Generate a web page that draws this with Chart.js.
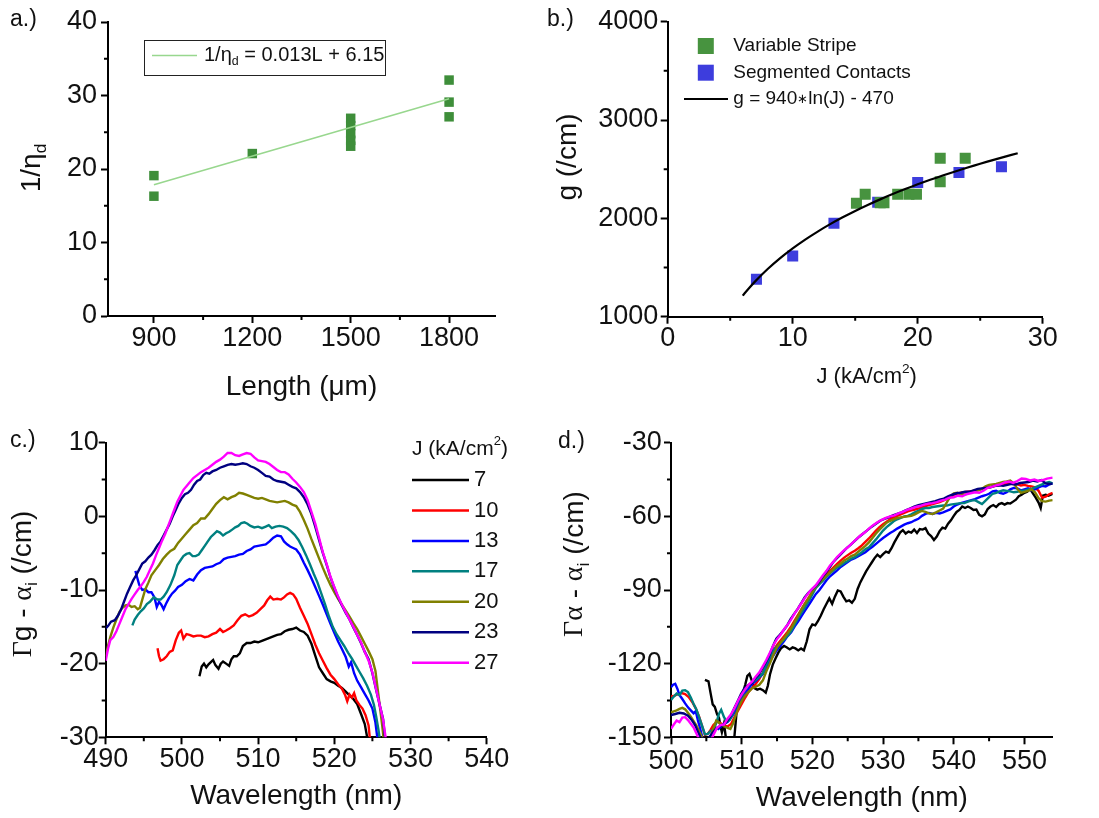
<!DOCTYPE html>
<html>
<head>
<meta charset="utf-8">
<script src="https://cdn.jsdelivr.net/npm/chart.js@4.4.0/dist/chart.umd.min.js"></script>
<style>
  body { margin:0; background:#fff; width:1099px; height:818px; position:relative; overflow:hidden; }
  canvas { position:absolute; }
</style>
</head>
<body>
<canvas id="panelA" width="540" height="410" style="left:0;top:0"></canvas>
<canvas id="panelB" width="559" height="410" style="left:540px;top:0"></canvas>
<canvas id="panelC" width="540" height="408" style="left:0;top:410px"></canvas>
<canvas id="panelD" width="549" height="408" style="left:550px;top:410px"></canvas>
<script>
// ── a.) inverse differential efficiency vs cavity length ─────
const lengths = [900, 900, 1200, 1500, 1500, 1500, 1500, 1500, 1800, 1800, 1800];
const invEff  = [19.1, 16.3, 22.1, 26.9, 25.9, 24.8, 23.9, 23.1, 32.1, 29.1, 27.1];
const effSlope = 0.013, effIntercept = 6.15;
const aXTicks = [900, 1200, 1500, 1800], aXMinor = [1050, 1350, 1650];
const aYTicks = [0, 10, 20, 30, 40],      aYMinor = [5, 15, 25, 35];

// ── b.) modal gain vs current density ────────────────────────
const stripeJ = [15.1, 15.8, 17.0, 17.3, 18.4, 19.3, 19.9, 21.8, 21.8, 23.8];
const stripeG = [2154, 2245, 2160, 2160, 2245, 2245, 2245, 2373, 2611, 2611];
const segJ = [7.1, 10.0, 13.3, 16.8, 20.0, 23.3, 26.7];
const segG = [1380, 1617, 1950, 2164, 2364, 2467, 2526];
const gainA = 940, gainB = -470;
const fitJ = [6, 6.5, 7, 8, 9, 10, 11, 12, 13, 14, 15, 16, 17, 18, 19, 20, 21, 22, 23, 24, 25, 26, 27, 28];
const bXTicks = [0, 10, 20, 30], bXMinor = [5, 15, 25];
const bYTicks = [1000, 2000, 3000, 4000], bYMinor = [1500, 2500, 3500];

// ── c.) / d.) spectra per current density ────────────────────
const jLevels = ['7', '10', '13', '17', '20', '23', '27'];
const jColors = ['#000000', '#ff0000', '#0000ff', '#008080', '#808000', '#000080', '#ff00ff'];
const cXTicks = [490, 500, 510, 520, 530, 540], cXMinor = [495, 505, 515, 525, 535];
const cYTicks = [-30, -20, -10, 0, 10],         cYMinor = [-25, -15, -5, 5];
const dXTicks = [500, 510, 520, 530, 540, 550], dXMinor = [505, 515, 525, 535, 545];
const dYTicks = [-150, -120, -90, -60, -30],    dYMinor = [-135, -105, -75, -45];

const gain7 = [[502.3,-21.7],[502.6,-20.4],[502.9,-20.0],[503.2,-20.5],[503.5,-20.1],[503.8,-19.8],[504.1,-19.5],[504.4,-20.2],[504.8,-20.7],[505.1,-20.0],[505.4,-19.7],[505.8,-20.0],[506.2,-20.3],[506.5,-19.4],[506.8,-19.0],[507.2,-19.0],[507.6,-18.6],[508.0,-17.6],[508.5,-17.2],[509.0,-17.2],[509.5,-17.0],[510.0,-17.1],[510.5,-16.9],[511.0,-16.7],[511.5,-16.5],[512.0,-16.3],[512.5,-16.1],[513.0,-16.0],[513.5,-15.6],[514.0,-15.4],[514.5,-15.3],[515.0,-15.1],[515.5,-15.5],[516.0,-15.7],[516.5,-16.2],[517.0,-17.3],[517.5,-18.9],[518.0,-20.5],[518.5,-21.3],[519.0,-22.1],[519.5,-22.4],[520.0,-22.6],[520.5,-23.0],[521.0,-23.3],[521.5,-23.8],[522.0,-24.3],[522.5,-24.8],[523.0,-25.5],[523.5,-26.8],[524.0,-28.2],[524.4,-30.5]];
const gain10 = [[496.8,-17.9],[497.0,-19.0],[497.2,-19.6],[497.6,-19.4],[498.0,-19.0],[498.4,-18.4],[498.8,-18.2],[499.2,-16.8],[499.6,-15.8],[499.9,-15.5],[500.2,-16.6],[500.6,-16.0],[501.0,-16.1],[501.5,-16.3],[502.0,-16.2],[502.5,-16.2],[503.0,-16.4],[503.5,-16.3],[504.0,-16.0],[504.5,-15.8],[505.0,-15.3],[505.4,-15.7],[505.8,-15.5],[506.3,-15.2],[506.8,-14.8],[507.3,-14.1],[507.8,-13.5],[508.3,-13.3],[508.8,-13.6],[509.3,-13.4],[509.8,-13.1],[510.3,-12.6],[510.8,-12.1],[511.2,-11.4],[511.6,-10.9],[512.0,-11.3],[512.5,-11.2],[513.0,-11.3],[513.4,-11.0],[513.8,-10.6],[514.2,-10.4],[514.6,-10.6],[515.0,-11.2],[515.5,-12.4],[516.0,-13.5],[516.5,-14.6],[517.0,-16.0],[517.5,-17.4],[518.0,-18.6],[518.5,-19.6],[519.0,-20.6],[519.5,-21.5],[520.0,-22.1],[520.5,-22.8],[521.0,-23.4],[521.4,-24.2],[521.7,-25.1],[522.0,-24.2],[522.3,-24.6],[522.6,-24.0],[522.9,-25.0],[523.3,-25.6],[523.7,-26.1],[524.1,-27.0],[524.5,-28.4],[524.7,-30.5]];
const gain13 = [[493.9,-7.4],[494.1,-8.2],[494.4,-9.3],[494.8,-10.0],[495.2,-9.9],[495.6,-10.3],[496.0,-10.3],[496.4,-11.0],[496.7,-12.3],[497.0,-11.6],[497.3,-12.0],[497.6,-12.6],[497.9,-11.9],[498.3,-11.1],[498.7,-10.5],[499.1,-10.1],[499.5,-9.6],[500.0,-9.3],[500.5,-8.8],[501.0,-8.5],[501.5,-8.7],[502.0,-7.9],[502.5,-7.3],[503.0,-7.0],[503.5,-6.9],[504.0,-6.8],[504.5,-6.5],[505.0,-6.3],[505.5,-5.8],[506.0,-5.6],[506.5,-5.5],[507.0,-5.4],[507.5,-5.2],[508.0,-5.1],[508.5,-4.7],[509.0,-4.5],[509.5,-4.1],[510.0,-4.0],[510.5,-3.9],[511.0,-3.8],[511.5,-3.4],[512.0,-2.9],[512.5,-2.6],[513.0,-2.7],[513.4,-3.4],[513.8,-3.8],[514.2,-4.1],[514.6,-4.3],[515.0,-4.5],[515.5,-5.2],[516.0,-6.3],[516.5,-7.3],[517.0,-8.4],[517.5,-9.6],[518.0,-10.8],[518.5,-12.0],[519.0,-13.3],[519.5,-14.6],[520.0,-15.8],[520.5,-17.0],[521.0,-18.0],[521.5,-19.1],[521.9,-20.4],[522.2,-19.8],[522.6,-21.3],[523.0,-22.3],[523.5,-23.2],[524.0,-24.1],[524.5,-25.0],[525.0,-26.1],[525.4,-28.0],[525.7,-30.5]];
const gain17 = [[493.5,-14.8],[493.8,-14.0],[494.2,-13.4],[494.6,-12.9],[495.0,-12.5],[495.4,-11.9],[495.8,-11.6],[496.3,-11.0],[496.8,-11.3],[497.2,-11.3],[497.6,-10.9],[498.0,-10.3],[498.5,-9.3],[499.0,-8.0],[499.4,-6.6],[499.8,-6.0],[500.2,-5.4],[500.6,-5.1],[501.0,-5.0],[501.4,-5.4],[501.8,-5.4],[502.2,-5.2],[502.6,-4.6],[503.0,-4.0],[503.4,-3.4],[503.8,-2.8],[504.2,-2.4],[504.6,-2.0],[505.0,-2.2],[505.4,-2.6],[505.8,-2.3],[506.2,-2.1],[506.6,-1.8],[507.0,-1.5],[507.4,-1.3],[507.8,-0.9],[508.2,-0.8],[508.6,-1.0],[509.0,-1.3],[509.5,-1.5],[510.0,-1.4],[510.5,-1.6],[511.0,-1.4],[511.4,-1.2],[511.8,-1.6],[512.3,-1.4],[512.8,-1.3],[513.3,-1.4],[513.8,-1.6],[514.3,-2.0],[514.8,-2.5],[515.3,-3.2],[515.8,-4.2],[516.3,-5.3],[516.8,-6.5],[517.3,-7.8],[517.8,-9.0],[518.3,-10.5],[518.8,-12.0],[519.3,-13.6],[519.8,-15.0],[520.3,-16.0],[520.8,-16.8],[521.3,-17.6],[521.8,-18.5],[522.3,-19.3],[522.8,-20.2],[523.3,-21.1],[523.8,-22.0],[524.3,-23.0],[524.8,-24.2],[525.2,-25.6],[525.5,-27.2],[525.8,-29.0],[526.0,-30.5]];
const gain20 = [[490.0,-19.0],[490.3,-17.6],[490.6,-16.4],[491.0,-15.1],[491.4,-14.0],[491.8,-13.0],[492.2,-12.4],[492.6,-12.1],[493.0,-12.0],[493.4,-12.3],[493.8,-12.2],[494.2,-12.6],[494.5,-12.4],[494.8,-11.3],[495.2,-9.9],[495.6,-9.0],[496.0,-8.0],[496.5,-7.3],[497.0,-6.6],[497.5,-5.8],[498.0,-5.2],[498.5,-4.7],[499.0,-4.4],[499.5,-3.6],[500.0,-3.0],[500.5,-2.4],[501.0,-1.8],[501.5,-1.2],[502.0,-0.9],[502.5,-0.3],[503.0,-0.3],[503.5,0.3],[504.0,1.0],[504.5,1.7],[505.0,2.2],[505.5,2.6],[506.0,2.3],[506.5,2.6],[507.0,2.8],[507.5,3.2],[508.0,3.1],[508.5,2.9],[509.0,2.7],[509.5,2.5],[510.0,2.4],[510.5,2.5],[511.0,2.3],[511.5,2.1],[512.0,2.0],[512.5,1.9],[513.0,2.0],[513.5,2.1],[514.0,1.9],[514.5,1.6],[515.0,1.4],[515.5,0.6],[516.0,-0.5],[516.5,-1.7],[517.0,-3.1],[517.5,-4.4],[518.0,-5.7],[518.5,-7.0],[519.0,-8.2],[519.5,-9.3],[520.0,-10.3],[520.5,-11.2],[521.0,-12.0],[521.5,-12.8],[522.0,-13.6],[522.5,-14.5],[523.0,-15.3],[523.5,-16.3],[524.0,-17.3],[524.5,-18.3],[525.0,-19.4],[525.4,-21.0],[525.7,-23.5],[526.0,-26.0],[526.3,-28.5],[526.5,-30.5]];
const gain23 = [[490.0,-15.2],[490.3,-14.9],[490.7,-14.3],[491.2,-14.1],[491.6,-13.5],[492.0,-12.7],[492.4,-11.6],[492.8,-10.5],[493.2,-9.6],[493.6,-8.7],[494.0,-8.0],[494.4,-7.2],[494.8,-6.4],[495.2,-6.1],[495.6,-5.6],[496.0,-5.2],[496.4,-4.6],[496.8,-3.9],[497.2,-3.4],[497.6,-2.6],[498.0,-1.8],[498.4,-1.0],[498.8,0.0],[499.2,0.9],[499.6,1.8],[500.0,2.5],[500.4,3.0],[500.8,3.2],[501.2,3.6],[501.6,4.3],[502.0,4.8],[502.4,5.0],[502.8,5.6],[503.2,5.9],[503.6,5.8],[504.0,6.1],[504.5,6.3],[505.0,6.6],[505.5,6.8],[506.0,7.0],[506.5,7.1],[507.0,7.0],[507.5,7.1],[508.0,7.2],[508.5,7.1],[509.0,6.8],[509.5,6.6],[510.0,6.3],[510.5,5.9],[511.0,5.5],[511.5,5.4],[512.0,5.0],[512.5,4.8],[513.0,4.7],[513.5,4.6],[514.0,4.3],[514.5,4.0],[515.0,3.8],[515.5,3.3],[516.0,2.6],[516.5,1.6],[517.0,0.3],[517.5,-1.4],[518.0,-3.2],[518.5,-5.0],[519.0,-6.6],[519.5,-8.3],[520.0,-9.7],[520.5,-11.0],[521.0,-12.1],[521.5,-13.1],[522.0,-14.0],[522.5,-15.1],[523.0,-16.1],[523.5,-17.2],[524.0,-18.4],[524.5,-19.4],[525.0,-21.3],[525.5,-23.6],[526.0,-25.8],[526.4,-27.5],[526.7,-30.5]];
const gain27 = [[490.0,-19.6],[490.3,-18.0],[490.6,-16.8],[491.0,-16.4],[491.4,-15.6],[491.8,-14.6],[492.2,-13.6],[492.6,-12.6],[493.0,-11.9],[493.4,-11.2],[493.8,-10.6],[494.2,-10.0],[494.6,-9.5],[495.0,-8.9],[495.4,-8.2],[495.8,-7.3],[496.2,-6.4],[496.6,-5.3],[497.0,-4.3],[497.4,-3.3],[497.8,-2.4],[498.2,-1.3],[498.6,-0.2],[499.0,0.9],[499.4,2.0],[499.8,2.8],[500.2,3.6],[500.6,4.1],[501.0,4.6],[501.5,5.2],[502.0,5.6],[502.5,6.0],[503.0,6.3],[503.5,6.6],[504.0,7.0],[504.5,7.4],[505.0,7.7],[505.5,8.1],[506.0,8.6],[506.5,8.6],[507.0,8.3],[507.5,8.2],[508.0,8.4],[508.5,8.6],[509.0,8.5],[509.5,8.0],[510.0,7.6],[510.5,7.5],[511.0,7.4],[511.5,7.1],[512.0,6.7],[512.5,6.3],[513.0,6.0],[513.5,6.0],[514.0,5.7],[514.5,5.1],[515.0,4.6],[515.5,4.0],[516.0,3.3],[516.5,2.2],[517.0,0.6],[517.5,-1.0],[518.0,-2.9],[518.5,-4.9],[519.0,-6.5],[519.5,-8.2],[520.0,-9.6],[520.5,-10.9],[521.0,-12.0],[521.5,-13.0],[522.0,-14.0],[522.5,-15.0],[523.0,-16.1],[523.5,-17.1],[524.0,-18.4],[524.5,-19.6],[525.0,-21.2],[525.5,-23.5],[526.0,-25.8],[526.4,-27.6],[526.8,-30.5]];

const abs7 = [[504.8,-126.6],[505.3,-127.2],[505.6,-132.0],[505.9,-136.6],[506.2,-137.6],[506.5,-140.4],[506.8,-142.2],[507.0,-145.6],[507.2,-148.0],[507.5,-144.4],[507.8,-151.0],[508.0,-156.0],[508.5,-160.0],[508.9,-152.0],[509.3,-139.0],[509.7,-136.0],[510.1,-132.6],[510.5,-128.6],[510.8,-125.0],[511.1,-124.2],[511.4,-126.6],[511.8,-130.0],[512.2,-130.6],[512.6,-130.2],[513.0,-130.8],[513.4,-131.8],[513.7,-129.0],[514.0,-124.4],[514.4,-120.4],[514.8,-117.8],[515.2,-115.4],[515.6,-113.6],[516.0,-112.8],[516.4,-113.4],[516.8,-114.2],[517.2,-113.4],[517.6,-113.8],[518.0,-114.6],[518.4,-113.8],[518.8,-114.6],[519.2,-111.0],[519.6,-106.0],[520.0,-104.0],[520.4,-104.4],[520.8,-102.6],[521.2,-100.4],[521.6,-97.8],[522.0,-95.6],[522.4,-93.4],[522.8,-95.6],[523.2,-92.6],[523.6,-90.2],[524.0,-90.6],[524.4,-92.8],[524.8,-94.6],[525.2,-94.2],[525.6,-95.2],[526.0,-93.6],[526.4,-89.6],[526.8,-86.8],[527.2,-84.6],[527.6,-82.4],[528.0,-80.6],[528.4,-78.8],[528.8,-77.0],[529.2,-75.6],[529.6,-76.6],[530.0,-75.4],[530.4,-74.4],[530.8,-74.8],[531.2,-73.0],[531.6,-70.6],[532.0,-68.6],[532.4,-66.6],[532.8,-65.6],[533.2,-67.0],[533.6,-66.2],[534.0,-66.6],[534.4,-65.4],[534.8,-66.8],[535.2,-65.2],[535.6,-65.4],[536.0,-64.8],[536.4,-67.0],[536.8,-68.0],[537.2,-69.6],[537.6,-68.2],[538.0,-66.0],[538.4,-64.6],[538.8,-65.0],[539.2,-63.0],[539.6,-61.6],[540.0,-59.8],[540.4,-58.2],[540.8,-57.4],[541.2,-56.0],[541.6,-56.6],[542.0,-56.0],[542.4,-56.6],[542.8,-57.4],[543.2,-57.2],[543.6,-59.4],[544.0,-60.0],[544.4,-59.2],[544.8,-57.0],[545.2,-56.0],[545.6,-55.4],[546.0,-56.2],[546.4,-55.0],[546.8,-54.6],[547.2,-55.2],[547.6,-54.6],[548.0,-54.8],[548.4,-54.0],[548.8,-53.2],[549.2,-51.8],[549.6,-51.2],[550.0,-50.4],[550.4,-50.0],[550.8,-48.8],[551.2,-50.6],[551.6,-52.4],[552.0,-54.4],[552.3,-56.6],[552.6,-51.6],[553.0,-51.2],[553.4,-51.6],[554.0,-50.8]];
const abs10 = [[500.0,-133.4],[500.5,-133.0],[501.0,-132.4],[501.5,-132.0],[502.0,-132.4],[502.5,-133.6],[503.0,-135.6],[503.5,-138.2],[504.0,-141.8],[504.4,-145.4],[504.8,-149.0],[505.2,-148.6],[505.6,-147.0],[506.0,-145.0],[506.5,-143.6],[507.0,-144.2],[507.5,-145.0],[508.0,-145.6],[508.5,-144.6],[509.0,-141.6],[509.5,-139.0],[510.0,-136.4],[510.5,-133.8],[511.0,-131.4],[511.5,-129.8],[512.0,-128.2],[512.5,-126.2],[513.0,-123.6],[513.5,-120.6],[514.0,-117.4],[514.5,-114.6],[515.0,-112.4],[515.5,-110.6],[516.0,-108.8],[516.5,-107.0],[517.0,-104.8],[517.5,-102.4],[518.0,-100.0],[518.5,-97.6],[519.0,-95.2],[519.5,-93.0],[520.0,-90.8],[520.5,-88.6],[521.0,-86.8],[521.5,-85.2],[522.0,-83.6],[522.5,-82.2],[523.0,-80.8],[523.5,-79.4],[524.0,-78.0],[524.5,-76.8],[525.0,-75.8],[525.5,-74.8],[526.0,-74.0],[526.5,-73.0],[527.0,-71.8],[527.5,-70.4],[528.0,-69.0],[528.5,-67.4],[529.0,-65.8],[529.5,-64.4],[530.0,-63.2],[530.5,-62.2],[531.0,-61.2],[531.5,-60.4],[532.0,-59.8],[532.5,-59.2],[533.0,-58.6],[533.5,-58.0],[534.0,-57.6],[534.5,-57.2],[535.0,-56.8],[535.5,-56.2],[536.0,-55.8],[536.5,-55.4],[537.0,-55.0],[537.5,-54.6],[538.0,-54.2],[538.5,-53.6],[539.0,-53.0],[539.5,-52.2],[540.0,-51.2],[540.5,-50.8],[541.0,-50.4],[541.5,-50.2],[542.0,-50.0],[542.5,-49.8],[543.0,-49.4],[543.5,-49.0],[544.0,-48.8],[544.5,-48.4],[545.0,-48.2],[545.5,-47.8],[546.0,-47.6],[546.5,-47.2],[547.0,-47.0],[547.5,-46.8],[548.0,-46.6],[548.5,-46.8],[549.0,-47.0],[549.5,-47.4],[550.0,-47.2],[550.5,-47.6],[551.0,-47.8],[551.5,-48.2],[552.0,-49.6],[552.5,-52.4],[553.0,-52.0],[553.5,-51.0],[554.0,-50.4]];
const abs13 = [[500.0,-129.6],[500.3,-128.6],[500.6,-128.2],[500.9,-130.2],[501.2,-132.8],[501.6,-134.4],[502.0,-136.2],[502.4,-137.8],[502.8,-139.0],[503.2,-140.2],[503.5,-139.4],[503.8,-143.0],[504.1,-146.2],[504.4,-149.6],[504.7,-152.0],[505.2,-151.8],[505.6,-150.6],[506.0,-148.2],[506.3,-146.0],[506.7,-146.6],[507.1,-145.6],[507.5,-144.4],[508.0,-143.8],[508.5,-142.0],[509.0,-139.8],[509.5,-137.2],[510.0,-134.6],[510.5,-132.0],[511.0,-130.0],[511.5,-128.2],[512.0,-127.0],[512.5,-125.6],[513.0,-124.2],[513.5,-121.4],[514.0,-118.6],[514.5,-116.6],[515.0,-114.4],[515.5,-112.6],[516.0,-110.8],[516.5,-108.8],[517.0,-107.2],[517.5,-104.8],[518.0,-102.8],[518.5,-100.4],[519.0,-98.2],[519.5,-96.0],[520.0,-93.8],[520.5,-91.6],[521.0,-90.0],[521.5,-88.0],[522.0,-86.0],[522.5,-84.4],[523.0,-83.2],[523.5,-82.0],[524.0,-80.6],[524.5,-79.6],[525.0,-78.6],[525.5,-77.6],[526.0,-77.0],[526.5,-76.2],[527.0,-75.4],[527.5,-74.6],[528.0,-73.4],[528.5,-72.4],[529.0,-71.2],[529.5,-70.0],[530.0,-68.8],[530.5,-67.8],[531.0,-66.8],[531.5,-66.0],[532.0,-65.0],[532.5,-64.2],[533.0,-63.4],[533.5,-62.8],[534.0,-62.4],[534.5,-61.6],[535.0,-61.0],[535.5,-59.8],[536.0,-59.0],[536.5,-58.6],[537.0,-59.0],[537.5,-58.6],[538.0,-58.8],[538.5,-58.4],[539.0,-57.8],[539.5,-57.2],[540.0,-56.0],[540.5,-55.2],[541.0,-54.6],[541.5,-54.2],[542.0,-53.8],[542.5,-53.4],[543.0,-53.0],[543.5,-52.4],[544.0,-51.8],[544.5,-51.4],[545.0,-50.8],[545.5,-49.8],[546.0,-49.6],[546.5,-50.4],[547.0,-50.8],[547.5,-50.2],[548.0,-49.0],[548.5,-48.4],[549.0,-48.6],[549.5,-49.4],[550.0,-49.0],[550.5,-48.6],[551.0,-49.4],[551.5,-49.0],[552.0,-48.2],[552.5,-47.6],[553.0,-47.8],[553.5,-47.0],[554.0,-46.6]];
const abs17 = [[500.0,-134.8],[500.4,-133.4],[500.8,-132.2],[501.2,-132.8],[501.6,-131.0],[502.0,-130.8],[502.4,-131.6],[502.8,-133.8],[503.2,-136.4],[503.6,-138.8],[504.0,-142.0],[504.4,-145.4],[504.8,-148.8],[505.2,-148.6],[505.6,-147.4],[506.0,-147.0],[506.4,-144.2],[506.8,-140.4],[507.1,-138.8],[507.5,-141.8],[507.9,-143.6],[508.3,-143.0],[508.7,-140.6],[509.1,-137.6],[509.5,-135.4],[510.0,-133.0],[510.5,-130.6],[511.0,-128.8],[511.5,-127.6],[512.0,-126.6],[512.5,-125.4],[513.0,-124.0],[513.5,-120.2],[514.0,-117.0],[514.5,-114.6],[515.0,-113.0],[515.5,-111.6],[516.0,-110.2],[516.5,-108.6],[517.0,-106.8],[517.5,-104.0],[518.0,-101.4],[518.5,-99.0],[519.0,-96.8],[519.5,-94.4],[520.0,-91.8],[520.5,-89.2],[521.0,-87.6],[521.5,-86.2],[522.0,-84.6],[522.5,-83.2],[523.0,-82.0],[523.5,-80.8],[524.0,-80.0],[524.5,-79.0],[525.0,-78.2],[525.5,-77.2],[526.0,-76.6],[526.5,-75.6],[527.0,-74.6],[527.5,-73.4],[528.0,-72.6],[528.5,-71.0],[529.0,-69.4],[529.5,-67.6],[530.0,-65.8],[530.5,-64.4],[531.0,-63.2],[531.5,-62.0],[532.0,-61.2],[532.5,-60.6],[533.0,-60.0],[533.5,-59.8],[534.0,-59.2],[534.5,-58.4],[535.0,-57.8],[535.5,-57.0],[536.0,-56.6],[536.5,-56.6],[537.0,-56.2],[537.5,-56.0],[538.0,-55.8],[538.5,-55.6],[539.0,-55.6],[539.5,-55.2],[540.0,-55.0],[540.5,-54.8],[541.0,-54.6],[541.5,-54.6],[542.0,-54.0],[542.5,-53.6],[543.0,-53.4],[543.5,-54.2],[544.0,-55.0],[544.5,-53.6],[545.0,-52.2],[545.5,-50.8],[546.0,-50.4],[546.5,-49.8],[547.0,-49.4],[547.5,-49.6],[548.0,-49.8],[548.5,-50.2],[549.0,-50.0],[549.5,-49.6],[550.0,-49.6],[550.5,-49.0],[551.0,-48.8],[551.5,-48.2],[552.0,-47.6],[552.5,-47.0],[553.0,-46.4],[553.5,-46.0],[554.0,-46.6]];
const abs20 = [[500.0,-139.8],[500.4,-139.4],[500.8,-139.0],[501.2,-138.4],[501.6,-138.0],[502.0,-138.6],[502.4,-140.0],[502.8,-141.6],[503.2,-143.4],[503.6,-145.2],[504.0,-147.6],[504.4,-150.0],[504.8,-152.4],[505.2,-151.6],[505.6,-149.8],[506.0,-146.4],[506.4,-143.2],[506.8,-144.0],[507.2,-145.2],[507.6,-145.6],[508.0,-146.2],[508.4,-146.6],[508.8,-144.2],[509.2,-140.6],[509.6,-137.6],[510.0,-135.2],[510.5,-133.0],[511.0,-131.4],[511.5,-130.0],[512.0,-129.4],[512.5,-128.6],[513.0,-126.8],[513.5,-123.0],[514.0,-119.8],[514.5,-116.4],[515.0,-113.4],[515.5,-111.4],[516.0,-109.6],[516.5,-107.6],[517.0,-105.6],[517.5,-103.0],[518.0,-100.4],[518.5,-97.8],[519.0,-95.4],[519.5,-93.2],[520.0,-90.8],[520.5,-88.6],[521.0,-87.0],[521.5,-85.6],[522.0,-84.2],[522.5,-82.8],[523.0,-81.4],[523.5,-80.2],[524.0,-79.2],[524.5,-78.0],[525.0,-77.2],[525.5,-76.2],[526.0,-75.6],[526.5,-74.4],[527.0,-73.2],[527.5,-72.0],[528.0,-70.6],[528.5,-68.8],[529.0,-67.0],[529.5,-65.4],[530.0,-64.0],[530.5,-62.6],[531.0,-61.8],[531.5,-61.2],[532.0,-60.6],[532.5,-60.4],[533.0,-60.2],[533.5,-60.0],[534.0,-59.8],[534.5,-59.2],[535.0,-58.4],[535.5,-57.8],[536.0,-58.2],[536.5,-58.8],[537.0,-59.0],[537.5,-58.4],[538.0,-57.6],[538.5,-56.8],[539.0,-54.4],[539.5,-52.0],[540.0,-50.6],[540.5,-50.4],[541.0,-51.0],[541.5,-51.2],[542.0,-50.6],[542.5,-50.0],[543.0,-49.8],[543.5,-49.4],[544.0,-48.8],[544.5,-47.8],[545.0,-47.2],[545.5,-47.0],[546.0,-46.8],[546.5,-46.4],[547.0,-46.0],[547.5,-45.8],[548.0,-45.4],[548.5,-46.6],[549.0,-48.8],[549.5,-50.4],[550.0,-50.0],[550.5,-49.6],[551.0,-49.0],[551.5,-50.2],[552.0,-52.6],[552.5,-53.8],[553.0,-54.0],[553.5,-53.6],[554.0,-53.4]];
const abs23 = [[500.0,-140.9],[500.6,-140.5],[501.2,-140.0],[501.8,-140.3],[502.4,-141.2],[502.9,-142.8],[503.4,-145.0],[503.9,-148.3],[504.4,-151.5],[504.9,-151.0],[505.4,-150.0],[505.9,-148.0],[506.4,-146.4],[506.9,-145.5],[507.4,-145.0],[507.9,-143.6],[508.4,-141.5],[508.9,-138.5],[509.4,-135.5],[509.9,-132.4],[510.4,-130.0],[510.9,-128.8],[511.4,-128.0],[511.9,-126.0],[512.4,-124.5],[512.9,-122.0],[513.4,-119.5],[513.9,-116.8],[514.4,-113.0],[514.9,-109.8],[515.4,-108.2],[515.9,-106.5],[516.4,-104.6],[516.9,-102.0],[517.4,-99.8],[517.9,-97.8],[518.4,-95.5],[518.9,-93.0],[519.4,-91.2],[519.9,-89.8],[520.4,-88.5],[520.9,-87.0],[521.4,-84.8],[521.9,-83.0],[522.4,-81.0],[522.9,-78.8],[523.4,-77.2],[523.9,-75.8],[524.4,-74.3],[524.9,-72.8],[525.4,-71.6],[526.0,-70.0],[526.6,-68.4],[527.2,-67.0],[527.8,-65.6],[528.4,-64.2],[529.0,-63.0],[529.6,-61.8],[530.2,-61.0],[530.8,-60.4],[531.4,-59.6],[532.0,-59.0],[532.6,-58.4],[533.2,-57.6],[533.8,-56.8],[534.4,-56.0],[535.0,-55.4],[535.6,-55.0],[536.2,-54.6],[536.8,-54.2],[537.4,-53.8],[538.0,-53.2],[538.6,-52.8],[539.2,-51.9],[539.8,-51.2],[540.4,-50.6],[541.0,-50.4],[541.6,-50.0],[542.2,-50.0],[542.8,-49.4],[543.4,-48.8],[544.0,-48.6],[544.6,-48.4],[545.2,-48.2],[545.8,-47.6],[546.4,-47.4],[547.0,-47.6],[547.6,-47.2],[548.2,-46.8],[548.8,-47.0],[549.4,-46.4],[550.0,-46.2],[550.6,-46.0],[551.2,-45.4],[551.8,-45.8],[552.4,-45.2],[553.0,-46.6],[553.6,-46.8],[554.0,-46.6]];
const abs27 = [[500.0,-146.5],[500.4,-144.8],[500.8,-143.2],[501.2,-143.8],[501.6,-142.0],[502.0,-141.8],[502.4,-143.0],[502.8,-144.5],[503.2,-146.0],[503.6,-148.5],[504.0,-151.0],[504.4,-153.5],[504.8,-156.0],[505.6,-152.0],[506.0,-149.0],[506.5,-146.2],[507.0,-145.0],[507.5,-144.8],[508.0,-142.4],[508.5,-140.6],[509.0,-138.0],[509.5,-135.0],[510.0,-132.5],[510.5,-130.4],[511.0,-128.5],[511.5,-127.2],[512.0,-125.2],[512.5,-123.5],[513.0,-121.0],[513.5,-118.4],[514.0,-115.5],[514.5,-112.4],[515.0,-110.0],[515.5,-108.2],[516.0,-106.0],[516.5,-104.2],[517.0,-102.0],[517.5,-99.5],[518.0,-97.4],[518.5,-95.2],[519.0,-93.0],[519.5,-91.0],[520.0,-89.4],[520.5,-88.0],[521.0,-86.0],[521.5,-84.0],[522.0,-82.2],[522.5,-80.0],[523.0,-78.4],[523.5,-76.6],[524.0,-75.2],[524.5,-73.8],[525.0,-72.6],[525.6,-71.0],[526.2,-69.4],[526.8,-67.8],[527.4,-66.6],[528.0,-65.0],[528.6,-63.6],[529.2,-62.4],[529.8,-61.4],[530.4,-60.6],[531.0,-60.0],[531.6,-59.6],[532.2,-58.8],[532.8,-58.2],[533.4,-57.4],[534.0,-56.8],[534.6,-56.2],[535.2,-55.8],[535.8,-55.2],[536.4,-54.8],[537.0,-54.6],[537.6,-54.2],[538.2,-53.6],[538.8,-53.2],[539.4,-52.4],[540.0,-52.2],[540.6,-51.6],[541.2,-51.8],[541.8,-51.0],[542.4,-50.6],[543.0,-50.2],[543.6,-50.4],[544.2,-49.6],[544.8,-48.4],[545.4,-48.0],[546.0,-47.4],[546.6,-47.0],[547.2,-46.2],[547.8,-45.8],[548.4,-46.4],[549.0,-45.6],[549.6,-44.6],[550.2,-44.8],[550.8,-45.4],[551.4,-45.0],[552.0,-45.6],[552.6,-45.2],[553.2,-44.6],[554.0,-44.2]];

const gainSeries = [gain7, gain10, gain13, gain17, gain20, gain23, gain27];
const absSeries  = [abs7, abs10, abs13, abs17, abs20, abs23, abs27];

// ── shared helpers ───────────────────────────────────────────
const SANS  = "'Liberation Sans', Arial, Helvetica, sans-serif";
const SERIF = "'Liberation Serif', 'Times New Roman', serif";

const pts = arr => arr.map(([x, y]) => ({ x, y }));
const zipXY = (xs, ys) => xs.map((x, i) => ({ x, y: ys[i] }));

function linAxis(min, max, ticks, pad, size) {
  return {
    type: 'linear', min, max,
    afterBuildTicks: s => { s.ticks = ticks.map(v => ({ value: v })); },
    ticks: { color: '#111', padding: pad, autoSkip: false, maxRotation: 0,
             font: { family: SANS, size: 27, lineHeight: 1 }, callback: v => String(v) },
    grid: { drawOnChartArea: false, tickLength: 7, tickWidth: 2, tickColor: '#000' },
    border: { color: '#000', width: 2 },
    afterFit: s => { if (s.isHorizontal()) s.height = size; else s.width = size; }
  };
}

function axisTitle(text, size, padBottom) {
  return { display: true, text, color: '#111', padding: { top: 0, bottom: padBottom },
           font: { family: SANS, size, lineHeight: 1 } };
}

// text with sub/superscripts: parts = [{t, sub, sup, serif, scale}]
function rich(ctx, parts, x, y, size, opt = {}) {
  ctx.save();
  ctx.translate(x, y);
  if (opt.rotate) ctx.rotate(-Math.PI / 2);
  ctx.textBaseline = 'middle';
  ctx.textAlign = 'left';
  ctx.fillStyle = '#111';
  const sizeOf = p => size * (p.scale || ((p.sub || p.sup) ? 0.62 : 1));
  const fontOf = p => `${sizeOf(p)}px ${p.serif ? SERIF : SANS}`;
  const widths = parts.map(p => { ctx.font = fontOf(p); return ctx.measureText(p.t).width; });
  const total = widths.reduce((a, b) => a + b, 0);
  let cx = opt.center ? -total / 2 : 0;
  parts.forEach((p, i) => {
    ctx.font = fontOf(p);
    const dy = p.sub ? size * 0.32 : p.sup ? -size * 0.34 : 0;
    ctx.fillText(p.t, cx, dy);
    cx += widths[i];
  });
  ctx.restore();
}

function minorTicks(xs, ys) {
  return {
    id: 'minorTicks',
    afterDraw(chart) {
      const { ctx, scales: { x, y } } = chart;
      ctx.save();
      ctx.strokeStyle = '#000';
      ctx.lineWidth = 2;
      ctx.beginPath();
      xs.forEach(v => { const px = x.getPixelForValue(v); ctx.moveTo(px, x.top); ctx.lineTo(px, x.top + 4); });
      ys.forEach(v => { const py = y.getPixelForValue(v); ctx.moveTo(y.right - 4, py); ctx.lineTo(y.right, py); });
      ctx.stroke();
      ctx.restore();
    }
  };
}

const decor = draw => ({ id: 'decor', afterDraw: chart => draw(chart.ctx, chart) });

const base = (padding) => ({
  responsive: false, animation: false, events: [],
  layout: { padding },
  plugins: { legend: { display: false }, tooltip: { enabled: false } }
});

// ── PANEL A ──────────────────────────────────────────────────
new Chart(document.getElementById('panelA'), {
  type: 'scatter',
  data: {
    datasets: [
      { data: [900, 1800].map(L => ({ x: L, y: effSlope * L + effIntercept })),
        showLine: true, borderColor: '#98d78e', borderWidth: 1.6, pointRadius: 0 },
      { data: zipXY(lengths, invEff), pointStyle: 'rect', pointRadius: 6.7,
        backgroundColor: '#3e8e3a', borderWidth: 0 }
    ]
  },
  options: {
    ...base({ top: 22, right: 45, left: 0, bottom: 0 }),
    scales: {
      x: { ...linAxis(760, 1940, aXTicks, 2, 94), title: axisTitle('Length (μm)', 28, 9) },
      y: linAxis(0, 40, aYTicks, 4, 108)
    }
  },
  plugins: [minorTicks(aXMinor, aYMinor), decor(ctx => {
    rich(ctx, [{ t: 'a.)' }], 10, 20, 23);
    rich(ctx, [{ t: '1/η' }, { t: 'd', sub: 1 }], 32, 168, 28, { rotate: 1, center: 1 });
    // fit legend box
    ctx.save();
    ctx.fillStyle = '#fff';
    ctx.fillRect(144.5, 40.5, 241, 35);
    ctx.strokeStyle = '#222';
    ctx.lineWidth = 1;
    ctx.strokeRect(144.5, 40.5, 241, 35);
    ctx.strokeStyle = '#98d78e';
    ctx.lineWidth = 1.6;
    ctx.beginPath(); ctx.moveTo(152, 55.5); ctx.lineTo(197, 55.5); ctx.stroke();
    ctx.restore();
    rich(ctx, [{ t: '1/η' }, { t: 'd', sub: 1 }, { t: ` = ${effSlope}L + ${effIntercept}` }], 204, 55, 20);
  })]
});

// ── PANEL B ──────────────────────────────────────────────────
new Chart(document.getElementById('panelB'), {
  type: 'scatter',
  data: {
    datasets: [
      { label: `g = ${gainA}∗ln(J) - ${-gainB}`,
        data: fitJ.map(j => ({ x: j, y: gainA * Math.log(j) + gainB })),
        showLine: true, borderColor: '#000', borderWidth: 2.2, pointRadius: 0, tension: 0.3 },
      { label: 'Variable Stripe', data: zipXY(stripeJ, stripeG), pointStyle: 'rect',
        pointRadius: 7.8, backgroundColor: '#47933f', borderWidth: 0 },
      { label: 'Segmented Contacts', data: zipXY(segJ, segG), pointStyle: 'rect',
        pointRadius: 7.8, backgroundColor: '#3d3ddd', borderWidth: 0 }
    ]
  },
  options: {
    ...base({ top: 21.7, right: 56.3, left: 0, bottom: 0 }),
    scales: {
      x: linAxis(0, 30, bXTicks, 1, 93.3),
      y: linAxis(1000, 4000, bYTicks, 2.4, 127.7)
    }
  },
  plugins: [minorTicks(bXMinor, bYMinor), decor((ctx, chart) => {
    const ds = chart.data.datasets;
    rich(ctx, [{ t: 'b.)' }], 7, 20, 23);
    rich(ctx, [{ t: 'g (/cm)' }], 28, 157, 28, { rotate: 1, center: 1 });
    rich(ctx, [{ t: 'J (kA/cm' }, { t: '2', sup: 1 }, { t: ')' }], 326.7, 377, 22, { center: 1 });
    // legend
    ctx.save();
    ctx.fillStyle = ds[1].backgroundColor;
    ctx.fillRect(157.8, 38, 16, 16);
    ctx.fillStyle = ds[2].backgroundColor;
    ctx.fillRect(157.8, 64.7, 16, 16);
    ctx.strokeStyle = '#000';
    ctx.lineWidth = 2.2;
    ctx.beginPath(); ctx.moveTo(144, 99); ctx.lineTo(188, 99); ctx.stroke();
    ctx.restore();
    rich(ctx, [{ t: ds[1].label }], 193.3, 46, 19);
    rich(ctx, [{ t: ds[2].label }], 193.3, 72.7, 19);
    const [pre, post] = ds[0].label.split('∗');
    rich(ctx, [{ t: pre }, { t: '∗', scale: 0.7 }, { t: post }], 193.3, 99, 19);
  })]
});

// ── PANELS C & D: one line per current density ───────────────
function spectraSets(series) {
  return series.map((s, i) => ({
    label: jLevels[i], data: pts(s), showLine: true, borderColor: jColors[i],
    borderWidth: 2.4, pointRadius: 0, order: series.length - i
  }));
}

new Chart(document.getElementById('panelC'), {
  type: 'scatter',
  data: { datasets: spectraSets(gainSeries) },
  options: {
    ...base({ top: 32.7, right: 53.3, left: 0, bottom: 0 }),
    scales: {
      x: { ...linAxis(490, 540, cXTicks, 2.2, 80.7), title: axisTitle('Wavelength (nm)', 28, 7.3) },
      y: linAxis(-30, 10, cYTicks, 0, 105.7)
    }
  },
  plugins: [minorTicks(cXMinor, cYMinor), decor((ctx, chart) => {
    rich(ctx, [{ t: 'c.)' }], 10, 31, 23);
    rich(ctx, [{ t: 'Γ', serif: 1 }, { t: 'g - ' }, { t: 'α', serif: 1 }, { t: 'i', sub: 1 }, { t: ' (/cm)' }],
         23.3, 174, 28, { rotate: 1, center: 1 });
    rich(ctx, [{ t: 'J (kA/cm' }, { t: '2', sup: 1 }, { t: ')' }], 412, 39, 21);
    chart.data.datasets.forEach((d, i) => {
      const y = 70 + i * 30.45;
      ctx.save();
      ctx.strokeStyle = d.borderColor;
      ctx.lineWidth = 2.5;
      ctx.beginPath(); ctx.moveTo(412, y); ctx.lineTo(469, y); ctx.stroke();
      ctx.restore();
      rich(ctx, [{ t: d.label }], 474, y, 22);
    });
  })]
});

new Chart(document.getElementById('panelD'), {
  type: 'scatter',
  data: { datasets: spectraSets(absSeries) },
  options: {
    ...base({ top: 32.7, right: 46.3, left: 0, bottom: 0 }),
    scales: {
      x: { ...linAxis(500, 554, dXTicks, 3.9, 80.7), title: axisTitle('Wavelength (nm)', 28, 5.7) },
      y: linAxis(-150, -30, dYTicks, 2.3, 121)
    }
  },
  plugins: [minorTicks(dXMinor, dYMinor), decor(ctx => {
    rich(ctx, [{ t: 'd.)' }], 8, 32, 23);
    rich(ctx, [{ t: 'Γα', serif: 1 }, { t: ' - ' }, { t: 'α', serif: 1 }, { t: 'i', sub: 1 }, { t: ' (/cm)' }],
         25, 154, 28, { rotate: 1, center: 1 });
  })]
});
</script>
</body>
</html>
